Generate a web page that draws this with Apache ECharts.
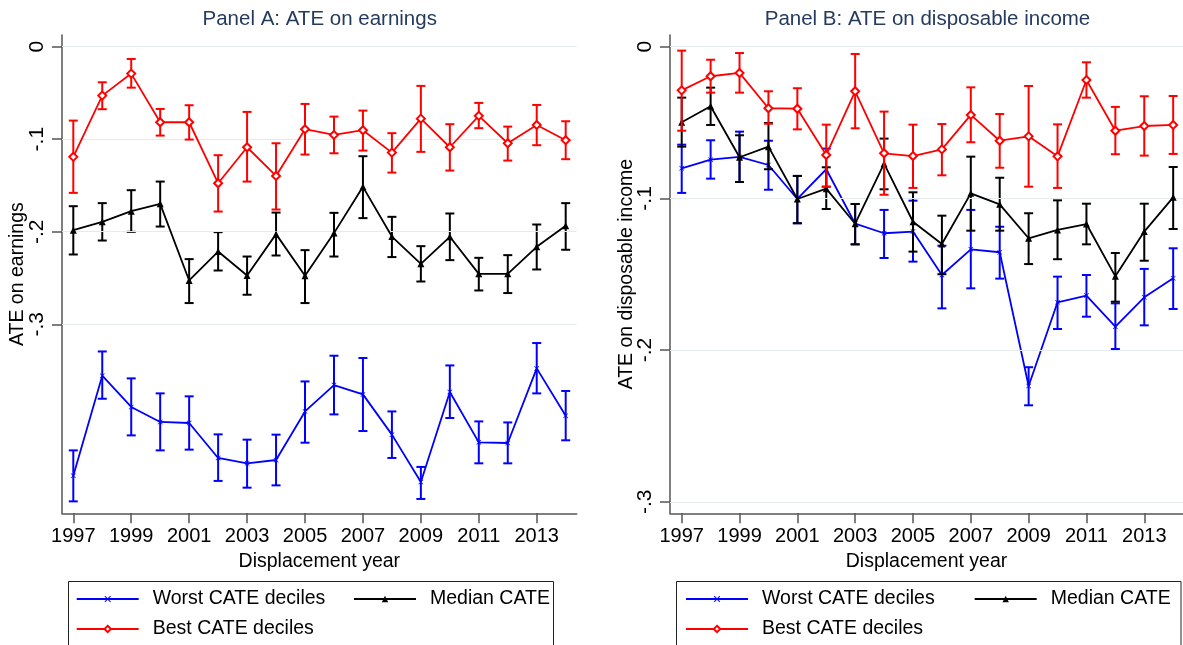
<!DOCTYPE html>
<html>
<head>
<meta charset="utf-8">
<script src="https://cdn.jsdelivr.net/npm/echarts@6/dist/echarts.min.js"></script>
<style>
html, body { margin: 0; padding: 0; background: #fff; }
#chart { width: 1183px; height: 645px; }
</style>
</head>
<body>
<div id="chart"></div>
<script>
var years = [1997, 1998, 1999, 2000, 2001, 2002, 2003, 2004, 2005, 2006, 2007, 2008, 2009, 2010, 2011, 2012, 2013, 2014];
var yearTicks = [1997, 1999, 2001, 2003, 2005, 2007, 2009, 2011, 2013];
var yTicks = [0, -0.1, -0.2, -0.3];

// Panel A: earnings
var worstA   = [-0.4636, -0.3556, -0.3894, -0.4056, -0.4067, -0.4445, -0.4503, -0.4467, -0.3942, -0.3657, -0.3758, -0.4193, -0.4704, -0.3732, -0.4276, -0.4283, -0.3477, -0.3988];
var worstAHi = [-0.4363, -0.3294, -0.3585, -0.3747, -0.3779, -0.4190, -0.4247, -0.4193, -0.3618, -0.3340, -0.3365, -0.3942, -0.4542, -0.3445, -0.4050, -0.4061, -0.3203, -0.3721];
var worstALo = [-0.4914, -0.3805, -0.4201, -0.4363, -0.4355, -0.4693, -0.4766, -0.4741, -0.4280, -0.3974, -0.4154, -0.4445, -0.4888, -0.4013, -0.4503, -0.4503, -0.3747, -0.4254];

var medianA   = [-0.1983, -0.1893, -0.1778, -0.1699, -0.2527, -0.2214, -0.2473, -0.2026, -0.2476, -0.2015, -0.1515, -0.2052, -0.2347, -0.2055, -0.2455, -0.2455, -0.2163, -0.1936];
var medianAHi = [-0.1724, -0.1691, -0.1551, -0.1458, -0.2296, -0.2005, -0.2268, -0.1793, -0.2199, -0.1796, -0.1184, -0.1839, -0.2156, -0.1803, -0.2282, -0.2253, -0.1922, -0.1691];
var medianALo = [-0.2246, -0.2095, -0.2001, -0.1944, -0.2771, -0.2419, -0.2681, -0.2257, -0.2771, -0.2268, -0.1853, -0.2274, -0.2538, -0.2307, -0.2635, -0.2663, -0.2408, -0.2195];

var bestA   = [-0.1191, -0.0529, -0.0291, -0.0817, -0.0817, -0.1476, -0.1087, -0.1397, -0.0892, -0.0954, -0.0903, -0.1145, -0.0778, -0.1087, -0.0748, -0.1044, -0.0846, -0.1011];
var bestAHi = [-0.0799, -0.0385, -0.0133, -0.0673, -0.0633, -0.1173, -0.0705, -0.1044, -0.0619, -0.0756, -0.0691, -0.0935, -0.0424, -0.0838, -0.0608, -0.0864, -0.0630, -0.0806];
var bestALo = [-0.1580, -0.0676, -0.0443, -0.0961, -0.1004, -0.1782, -0.1458, -0.1760, -0.1166, -0.1152, -0.1123, -0.1361, -0.1137, -0.1339, -0.0881, -0.1231, -0.1065, -0.1216];

// Panel B: disposable income
var worstB   = [-0.0802, -0.0745, -0.0727, -0.0780, -0.1004, -0.0808, -0.1167, -0.1230, -0.1219, -0.1505, -0.1336, -0.1355, -0.2237, -0.1685, -0.1641, -0.1846, -0.1652, -0.1527];
var worstBHi = [-0.0646, -0.0617, -0.0560, -0.0620, -0.0852, -0.0672, -0.1037, -0.1076, -0.1015, -0.1312, -0.1076, -0.1187, -0.2113, -0.1516, -0.1505, -0.1692, -0.1465, -0.1329];
var worstBLo = [-0.0964, -0.0870, -0.0892, -0.0943, -0.1164, -0.0923, -0.1303, -0.1393, -0.1417, -0.1725, -0.1593, -0.1529, -0.2364, -0.1861, -0.1780, -0.1993, -0.1837, -0.1729];

var medianB   = [-0.0498, -0.0393, -0.0729, -0.0659, -0.1004, -0.0936, -0.1167, -0.0771, -0.1154, -0.1301, -0.0967, -0.1039, -0.1263, -0.1208, -0.1169, -0.1514, -0.1219, -0.0993];
var medianBHi = [-0.0336, -0.0270, -0.0584, -0.0503, -0.0852, -0.0795, -0.1037, -0.0606, -0.0960, -0.1114, -0.0725, -0.0864, -0.1098, -0.1013, -0.1035, -0.1360, -0.1035, -0.0793];
var medianBLo = [-0.0659, -0.0516, -0.0892, -0.0808, -0.1164, -0.1070, -0.1303, -0.0940, -0.1351, -0.1500, -0.1213, -0.1213, -0.1433, -0.1401, -0.1303, -0.1681, -0.1411, -0.1202];

var bestB   = [-0.0288, -0.0195, -0.0173, -0.0406, -0.0409, -0.0714, -0.0294, -0.0703, -0.0721, -0.0677, -0.0450, -0.0620, -0.0591, -0.0723, -0.0220, -0.0554, -0.0523, -0.0516];
var bestBHi = [-0.0026, -0.0086, -0.0042, -0.0294, -0.0274, -0.0514, -0.0048, -0.0428, -0.0514, -0.0510, -0.0268, -0.0444, -0.0259, -0.0512, -0.0103, -0.0397, -0.0327, -0.0325];
var bestBLo = [-0.0554, -0.0303, -0.0303, -0.0508, -0.0545, -0.0923, -0.0538, -0.0976, -0.0931, -0.0848, -0.0630, -0.0798, -0.0923, -0.0931, -0.0336, -0.0709, -0.0718, -0.0707];

var WORST = 'Worst CATE deciles', MEDIAN = 'Median CATE', BEST = 'Best CATE deciles';
var FONT = '"Liberation Sans", Arial, sans-serif';
var xSymbol = 'path://M0,1L1,0L5,4L9,0L10,1L6,5L10,9L9,10L5,6L1,10L0,9L4,5Z';

var chart = echarts.init(document.getElementById('chart'));

function fmtY(v) {
    if (v === 0) return '0';
    return (v < 0 ? '-' : '') + String(Math.abs(v)).replace(/^0/, '');
}

// vertical error bar with caps
function renderBar(params, api) {
    var x = api.value(0);
    var top = api.coord([x, api.value(2)]);
    var bot = api.coord([x, api.value(1)]);
    var w = 4.5;
    var style = { stroke: api.visual('color'), lineWidth: 2 };
    return {
        type: 'group',
        children: [
            { type: 'line', shape: { x1: top[0], y1: top[1], x2: bot[0], y2: bot[1] }, style: style },
            { type: 'line', shape: { x1: top[0] - w, y1: top[1], x2: top[0] + w, y2: top[1] }, style: style },
            { type: 'line', shape: { x1: bot[0] - w, y1: bot[1], x2: bot[0] + w, y2: bot[1] }, style: style }
        ]
    };
}

function lineSeries(name, g, vals, color, symbol, size, bw, z) {
    return {
        name: name, type: 'line', xAxisIndex: g, yAxisIndex: g,
        data: years.map(function(y, i) { return [y, vals[i]]; }),
        symbol: symbol, symbolSize: size, showSymbol: true,
        lineStyle: { color: color, width: 1.8 },
        itemStyle: { color: color, borderColor: color, borderWidth: bw },
        emphasis: { disabled: true },
        z: z
    };
}

function barSeries(name, g, lo, hi, color, z) {
    return {
        name: name, type: 'custom', xAxisIndex: g, yAxisIndex: g,
        data: years.map(function(y, i) { return [y, lo[i], hi[i]]; }),
        encode: { x: 0, y: [1, 2] },
        itemStyle: { color: color },
        renderItem: renderBar,
        silent: true,
        z: z
    };
}

function gridSeries(g) {
    return {
        type: 'line', xAxisIndex: g, yAxisIndex: g, data: [], z: 1, silent: true,
        markLine: {
            silent: true, symbol: 'none', label: { show: false },
            lineStyle: { color: '#e4ebef', width: 1.2, type: 'solid' },
            data: yTicks.map(function(v) { return { yAxis: v }; })
        }
    };
}

function xAxis(g, min, max) {
    return {
        gridIndex: g, type: 'value', min: min, max: max,
        axisLine: { onZero: false, lineStyle: { color: '#555', width: 1.5 } },
        axisTick: { length: 10, customValues: yearTicks, lineStyle: { color: '#555', width: 1.5 } },
        axisLabel: { customValues: yearTicks, fontSize: 20, color: '#000', margin: 13, fontFamily: FONT,
                     formatter: function(v) { return String(v); } },
        splitLine: { show: false },
        name: 'Displacement year', nameLocation: 'middle', nameGap: 35,
        nameTextStyle: { fontSize: 19.5, color: '#000', fontFamily: FONT }
    };
}

function yAxis(g, min, max, name, gap) {
    return {
        gridIndex: g, type: 'value', min: min, max: max,
        axisLine: { show: true, onZero: false, lineStyle: { color: '#555', width: 1.5 } },
        axisTick: { show: true, length: 10, customValues: yTicks, lineStyle: { color: '#555', width: 1.5 } },
        axisLabel: { customValues: yTicks, rotate: 90, fontSize: 21, color: '#000', margin: 14, fontFamily: FONT, formatter: fmtY },
        splitLine: { show: false },
        name: name, nameLocation: 'middle', nameRotate: 90, nameGap: gap, nameMoveOverlap: false,
        nameTextStyle: { fontSize: 19.5, color: '#000', fontFamily: FONT }
    };
}

function legendItem(name, left, top) {
    return {
        data: [name], left: left, top: top, padding: 0,
        itemWidth: 62, itemHeight: 8, selectedMode: false,
        textStyle: { fontSize: 19.5, color: '#000', fontFamily: FONT, padding: [0, 0, 0, 9] }
    };
}

var option = {
    animation: false,
    backgroundColor: '#fff',
    textStyle: { fontFamily: FONT },
    title: [
        { text: 'Panel A: ATE on earnings', left: 319.7, top: 9, textAlign: 'center', padding: 0,
          textStyle: { fontSize: 20.5, fontWeight: 'normal', color: '#243b5e', fontFamily: FONT } },
        { text: 'Panel B: ATE on disposable income', left: 927.5, top: 9, textAlign: 'center', padding: 0,
          textStyle: { fontSize: 20.5, fontWeight: 'normal', color: '#243b5e', fontFamily: FONT } }
    ],
    grid: [
        { left: 62, top: 35, width: 514.7, height: 478.3 },
        { left: 670, top: 35, width: 513, height: 478.3 }
    ],
    xAxis: [xAxis(0, 1996.61, 2014.38), xAxis(1, 1996.595, 2014.34)],
    yAxis: [yAxis(0, -0.5043, 0.0126, 'ATE on earnings', 34), yAxis(1, -0.3076, 0.0077, 'ATE on disposable income', 33)],
    legend: [
        legendItem(WORST, 75.7, 589), legendItem(MEDIAN, 353, 589), legendItem(BEST, 75.7, 619),
        legendItem(WORST, 685, 589), legendItem(MEDIAN, 973.7, 589), legendItem(BEST, 685, 619)
    ],
    graphic: [
        { type: 'rect', shape: { x: 68.5, y: 581.5, width: 485, height: 80 }, style: { fill: 'none', stroke: '#222', lineWidth: 1 } },
        { type: 'rect', shape: { x: 676.5, y: 581.5, width: 504.5, height: 80 }, style: { fill: 'none', stroke: '#222', lineWidth: 1 } }
    ],
    series: [
        lineSeries(WORST, 0, worstA, '#0000ff', xSymbol, 5, 0, 3),
        lineSeries(MEDIAN, 0, medianA, '#000000', 'triangle', 7, 0, 5),
        lineSeries(BEST, 0, bestA, '#ff0000', 'emptyDiamond', 8, 1.5, 7),
        lineSeries(WORST, 1, worstB, '#0000ff', xSymbol, 5, 0, 3),
        lineSeries(MEDIAN, 1, medianB, '#000000', 'triangle', 7, 0, 5),
        lineSeries(BEST, 1, bestB, '#ff0000', 'emptyDiamond', 8, 1.5, 7),
        barSeries(WORST, 0, worstALo, worstAHi, '#0000ff', 2),
        barSeries(MEDIAN, 0, medianALo, medianAHi, '#000000', 4),
        barSeries(BEST, 0, bestALo, bestAHi, '#ff0000', 6),
        barSeries(WORST, 1, worstBLo, worstBHi, '#0000ff', 2),
        barSeries(MEDIAN, 1, medianBLo, medianBHi, '#000000', 4),
        barSeries(BEST, 1, bestBLo, bestBHi, '#ff0000', 6),
        gridSeries(0),
        gridSeries(1)
    ]
};

chart.setOption(option);
</script>
</body>
</html>
